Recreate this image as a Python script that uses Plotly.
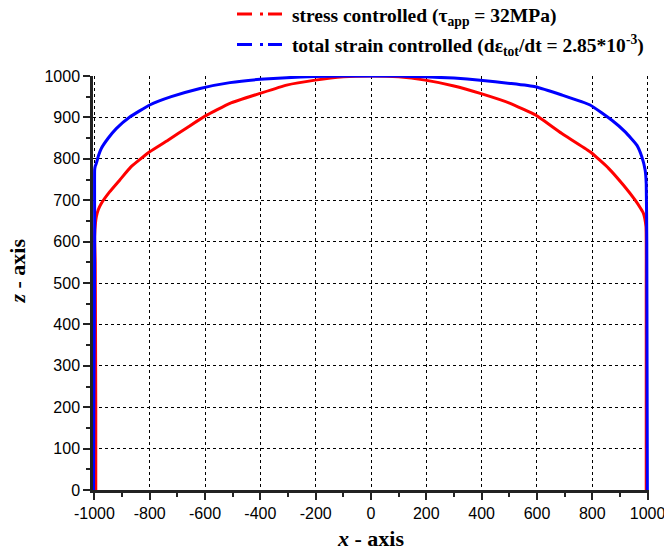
import plotly.graph_objects as go

# Interface profiles z(x) for the two loading modes
stress_x = [-995, -995, -996, -997, -999, -996, -993, -986, -975, -945, -908, -867, -800, -734,
            -661, -600, -510, -401, -305, -202, -100, 0, 100, 196, 300, 395, 503, 594, 623,
            690, 792, 859, 913, 955, 975, 985, 994, 995, 995, 995]
stress_z = [0, 200, 400, 550, 612, 645, 660, 677, 692, 720, 749, 781, 817, 845,
            877, 903, 934, 958, 978, 990, 998, 1000, 998, 990, 976, 958, 934, 906, 893,
            861, 817, 777, 736, 700, 680, 668, 636, 500, 250, 0]

strain_x = [-1003, -1002, -1000, -999, -999, -997, -993, -985, -975, -951, -921, -872, -800,
            -722, -618, -510, -401, -305, -202, -100, 0, 100, 196, 300, 395, 503, 594, 690,
            792, 871, 919, 961, 979, 991, 995, 997, 998, 999]
strain_z = [0, 200, 450, 628, 773, 782, 789, 808, 825, 849, 873, 901, 930,
            950, 970, 984, 992, 996, 999, 1000, 1000, 1000, 998, 995, 990, 982, 974, 954,
            930, 893, 865, 833, 805, 773, 740, 600, 300, 0]

x_tick_vals = [-1000, -800, -600, -400, -200, 0, 200, 400, 600, 800, 1000]
x_tick_labels = ["-1000", "-800", "-600", "-400", "-200", "0", "200", "400", "600", "800", "1000"]
z_tick_vals = [0, 100, 200, 300, 400, 500, 600, 700, 800, 900, 1000]
z_tick_labels = ["0", "100", "200", "300", "400", "500", "600", "700", "800", "900", "1000"]

stress_name = "\u00a0<b>stress controlled (τ<sub>app</sub> = 32MPa)</b>"
strain_name = "\u00a0<b>total strain controlled (dε<sub>tot</sub>/dt = 2.85*10<sup>-3</sup>)</b>"

RED = "#ff0000"
BLUE = "#0000ff"
LEGEND_DASH = "15px,8px,3px,5px"

fig = go.Figure()

fig.add_trace(go.Scatter(x=stress_x, y=stress_z, mode="lines",
                         line=dict(color=RED, width=3, shape="spline", smoothing=0.4),
                         legendgroup="stress", showlegend=False))
fig.add_trace(go.Scatter(x=strain_x, y=strain_z, mode="lines",
                         line=dict(color=BLUE, width=3, shape="spline", smoothing=0.4),
                         legendgroup="strain", showlegend=False))

# legend entries drawn with the dash-dot style
fig.add_trace(go.Scatter(x=[None], y=[None], mode="lines", name=stress_name,
                         line=dict(color=RED, width=3, dash=LEGEND_DASH),
                         legendgroup="stress"))
fig.add_trace(go.Scatter(x=[None], y=[None], mode="lines", name=strain_name,
                         line=dict(color=BLUE, width=3, dash=LEGEND_DASH),
                         legendgroup="strain"))

tick_font = dict(family="Liberation Sans, Arial, sans-serif", size=16, color="#000000")
title_font = dict(family="Liberation Serif, Times New Roman, serif", size=22, color="#000000")

fig.update_xaxes(
    range=[-1005, 1005], tickmode="array", tickvals=x_tick_vals, ticktext=x_tick_labels,
    ticks="outside", ticklen=7, tickwidth=2, tickcolor="#222222",
    showline=True, linewidth=2.5, linecolor="#222222",
    showgrid=True, gridcolor="#000000", gridwidth=1, griddash="dot",
    zeroline=False, tickfont=tick_font, ticklabeloverflow="allow",
    minor=dict(dtick=100, tick0=-1000, ticks="outside", ticklen=4, tickwidth=2,
               tickcolor="#222222", showgrid=False),
    title=dict(text="<b><i>x</i> - axis</b>", font=title_font, standoff=10),
)
fig.update_yaxes(
    range=[0, 1000], tickmode="array", tickvals=z_tick_vals, ticktext=z_tick_labels,
    ticks="outside", ticklen=7, tickwidth=2, tickcolor="#222222",
    showline=True, linewidth=2.5, linecolor="#222222",
    showgrid=True, gridcolor="#000000", gridwidth=1, griddash="dot",
    zeroline=False, tickfont=tick_font, ticklabeloverflow="allow",
    minor=dict(dtick=50, tick0=0, ticks="outside", ticklen=4, tickwidth=2,
               tickcolor="#222222", showgrid=False),
)

# vertical axis title
fig.add_annotation(text="<b><i>z</i> - axis</b>", xref="paper", yref="paper",
                   x=-0.135, y=0.53, xanchor="center", yanchor="middle",
                   textangle=-90, showarrow=False, font=title_font)

fig.update_layout(
    width=664, height=555,
    margin=dict(l=93, r=15, t=76, b=65, autoexpand=False),
    paper_bgcolor="#ffffff", plot_bgcolor="#ffffff",
    legend=dict(x=0.25, xanchor="left", y=1.196, yanchor="top",
                font=dict(family="Liberation Serif, Times New Roman, serif", size=19.5,
                          color="#000000"),
                itemwidth=45, bgcolor="rgba(0,0,0,0)", tracegroupgap=2),
)

fig.write_html("out.html")
